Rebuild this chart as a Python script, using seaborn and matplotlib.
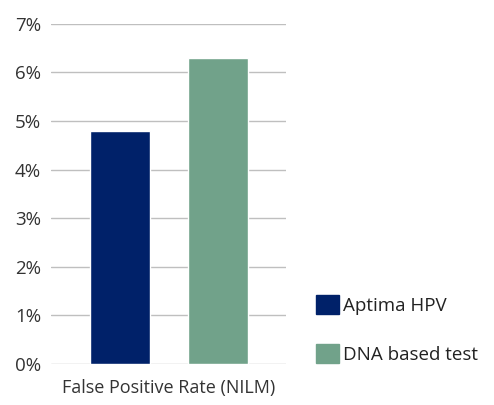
import matplotlib
matplotlib.use("Agg")
import matplotlib.pyplot as plt
import seaborn as sns
import pandas as pd
from matplotlib.ticker import PercentFormatter

series = ["Aptima HPV", "DNA based test"]
rates = [4.8, 6.3]
colors = ["#002169", "#71A28A"]
category = "False Positive Rate (NILM)"
yticks = [0, 1, 2, 3, 4, 5, 6, 7]

sns.set_theme(style="white")
plt.rcParams["font.family"] = ["Open Sans", "DejaVu Sans"]

df = pd.DataFrame({"series": series, "rate": rates})

fig = plt.figure(figsize=(4.94, 4.05), dpi=100)
ax = fig.add_axes([0.103, 0.101, 0.476, 0.840])

sns.barplot(data=df, x="series", y="rate", hue="series", palette=colors,
            width=0.61, legend=False, ax=ax, zorder=3, saturation=1)

ax.set_ylim(0, 7)
ax.set_xlim(-0.70, 1.69)
ax.set_yticks(yticks)
ax.yaxis.set_major_formatter(PercentFormatter(decimals=0))
ax.grid(axis="y", color="#BFBFBF", linewidth=1, zorder=0)
for s in ax.spines.values():
    s.set_visible(False)
ax.tick_params(axis="y", length=0, pad=7, labelsize=13.5, labelcolor="#333333")
ax.set_xticks([])
ax.set_xlabel(category, fontsize=13, color="#333333", labelpad=11)
ax.set_ylabel("")

handles = [plt.Rectangle((0, 0), 1, 1, color=c) for c in colors]
fig.legend(handles, series, loc="upper left", bbox_to_anchor=(0.625, 0.29),
           frameon=False, fontsize=13.5, handlelength=1.2, handleheight=1.2,
           handletextpad=0.2, labelspacing=1.55, borderaxespad=0,
           labelcolor="#222222")

fig.savefig("out.png", dpi=100)
